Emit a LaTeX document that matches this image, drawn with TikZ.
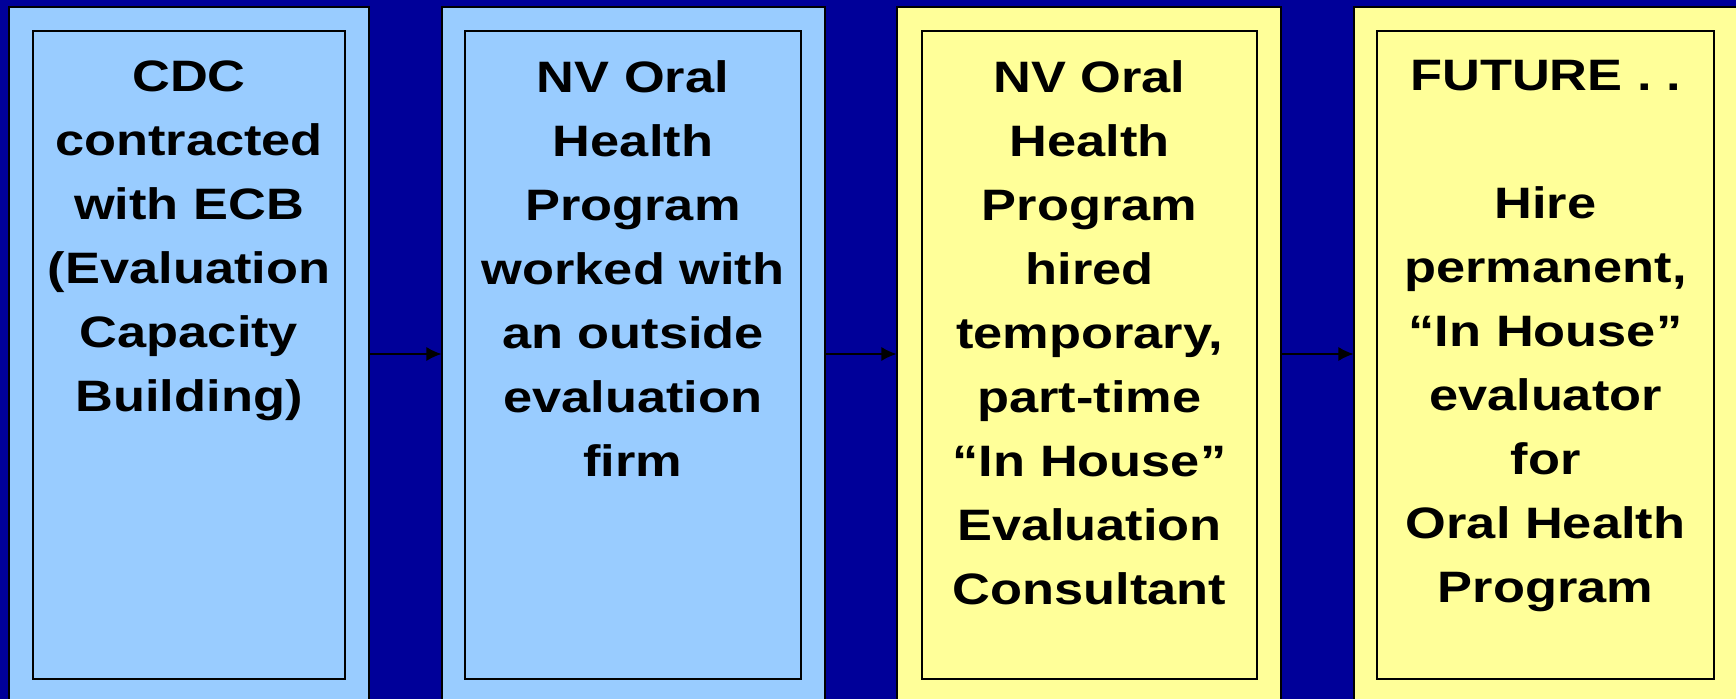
\documentclass[tikz,border=0pt]{standalone}
\usepackage{fontspec}
\setmainfont{Liberation Sans}[FakeStretch=1.19]
\usetikzlibrary{arrows.meta}
\definecolor{bgblue}{HTML}{000099}
\definecolor{boxblue}{HTML}{99CCFF}
\definecolor{boxyellow}{HTML}{FFFF99}
\tikzset{
  outerbox/.style={draw=black, line width=0.6pt, rectangle, inner sep=0pt, minimum height=347pt},
  innerbox/.style={draw=black, line width=0.7pt, rectangle, inner sep=0pt, minimum height=324pt},
  boxtext/.style={anchor=north, inner sep=0pt, align=center, text=black,
    font=\fontsize{22}{32}\selectfont\bfseries},
  flow/.style={draw=black, line width=0.6pt, -{Latex[length=7.5pt,width=7pt]}}
}
\begin{document}
\begin{tikzpicture}[x=0.5pt,y=-0.5pt]
\useasboundingbox (0,0) rectangle (1736,699);
\clip (0,0) rectangle (1736,699);
\fill[bgblue] (0,0) rectangle (1736,699);
% outer boxes
\node[outerbox, fill=boxblue, minimum width=180pt] (o1) at (189,354) {};
\node[outerbox, fill=boxblue, minimum width=191.5pt] (o2) at (633.5,354) {};
\node[outerbox, fill=boxyellow, minimum width=192pt] (o3) at (1089,354) {};
\node[outerbox, fill=boxyellow, minimum width=193pt] (o4) at (1547,354) {};
% inner boxes
\node[innerbox, fill=boxblue, minimum width=156pt] (i1) at (189,355) {};
\node[innerbox, fill=boxblue, minimum width=168pt] (i2) at (633,355) {};
\node[innerbox, fill=boxyellow, minimum width=167.5pt] (i3) at (1089.5,355) {};
\node[innerbox, fill=boxyellow, minimum width=168.5pt] (i4) at (1545.5,355) {};
% texts
\node[boxtext] (t1) at (189,60) {CDC\\contracted\\with ECB\\(Evaluation\\Capacity\\Building)};
\node[boxtext] (t2) at (633,60) {NV Oral\\Health\\Program\\worked with\\an outside\\evaluation\\firm};
\node[boxtext] (t3) at (1089.5,60) {NV Oral\\Health\\Program\\hired\\temporary,\\part-time\\“In House”\\Evaluation\\Consultant};
\node[boxtext] (t4) at (1545.5,60) {FUTURE . .\\[32pt]Hire\\permanent,\\“In House”\\evaluator\\for\\Oral Health\\Program};
% connectors
\draw[flow] (o1.east) -- (o2.west);
\draw[flow] (o2.east) -- (o3.west);
\draw[flow] (o3.east) -- (o4.west);
\end{tikzpicture}
\end{document}
